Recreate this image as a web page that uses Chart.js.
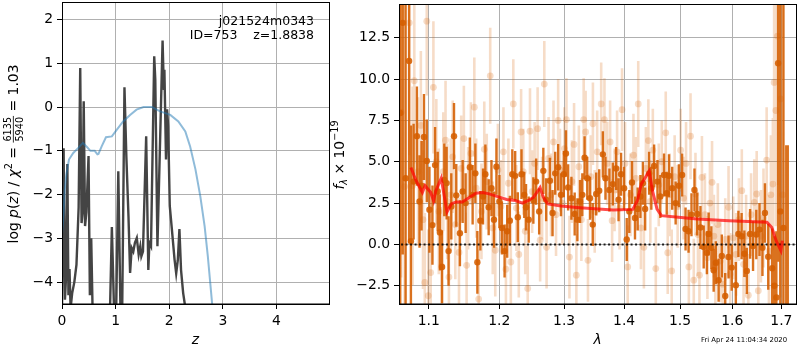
<!DOCTYPE html>
<html><head><meta charset="utf-8">
<script src="https://cdn.jsdelivr.net/npm/chart.js@4.4.1/dist/chart.umd.min.js"></script>
<style>
html,body{margin:0;padding:0;background:#fff;}
#wrap{position:relative;width:800px;height:350px;overflow:hidden;background:#fff;}
#c1{position:absolute;left:0;top:0;}
#c2{position:absolute;left:325px;top:0;}
</style></head><body>
<div id="wrap"><canvas id="c1" width="340" height="350"></canvas><canvas id="c2" width="475" height="350"></canvas></div>
<script>
// ---------------- data: left panel ----------------
const zPz = [0.000,0.030,0.055,0.075,0.100,0.120,0.140,0.160,0.190,0.230,0.270,0.310,0.340,0.365,0.385,0.405,0.430,0.455,0.495,0.520,0.545,0.570,0.600,0.750,0.880,0.930,0.970,1.000,1.050,1.090,1.120,1.165,1.200,1.240,1.270,1.300,1.330,1.360,1.395,1.430,1.460,1.480,1.510,1.570,1.610,1.630,1.660,1.720,1.740,1.780,1.830,1.876,1.900,1.910,1.940,1.960,1.980,2.010,2.050,2.100,2.130,2.160,2.190,2.220,2.260,2.290,2.350];
const logPz = [-4.6,-0.94,-4.4,-3.9,-1.3,-4.3,-3.7,-4.6,-4.25,-4.0,-3.6,-2.3,0.89,-2.65,-2.4,0.13,-2.72,-2.4,-1.12,-4.3,-3.0,-4.6,-5.5,-6.0,-5.5,-2.74,-4.6,-5.5,-1.47,-4.6,-5.0,0.45,-1.12,-2.5,-3.79,-3.22,-3.3,-3.1,-2.99,-3.37,-3.18,-3.41,-3.3,-0.67,-3.72,-3.1,-3.18,1.16,0.63,-3.18,-0.75,1.52,0.39,0.85,-1.2,-0.05,-0.43,-2.26,-2.8,-3.49,-3.8,-3.5,-2.79,-3.72,-4.25,-4.5,-5.5];
const zChi = [0.00,0.03,0.05,0.08,0.13,0.21,0.30,0.35,0.39,0.47,0.53,0.61,0.66,0.68,0.74,0.82,0.93,1.02,1.14,1.27,1.39,1.52,1.68,1.75,1.83,2.02,2.17,2.30,2.39,2.49,2.58,2.66,2.72,2.80,2.85];
const logChi = [-2.9,-2.42,-1.9,-1.55,-1.2,-1.05,-0.94,-0.87,-0.82,-0.92,-1.0,-1.0,-1.08,-1.07,-0.9,-0.69,-0.67,-0.52,-0.33,-0.18,-0.06,0.0,0.0,-0.05,-0.1,-0.18,-0.33,-0.56,-0.9,-1.43,-2.04,-2.72,-3.41,-4.49,-5.3];
const zTicks = [0,1,2,3,4];
const pTicks = [-4,-3,-2,-1,0,1,2];

// ---------------- data: right panel ----------------
const wDark = [1.0619,1.0652,1.0690,1.0736,1.0760,1.0796,1.0840,1.0875,1.0902,1.0935,
1.0973,1.1009,1.1050,1.1086,1.1122,1.1152,1.1182,1.1213,1.1245,1.1272,
1.1310,1.1348,1.1380,1.1431,1.1470,1.1512,1.1572,1.1612,1.1651,1.1680,
1.1723,1.1762,1.1796,1.1844,1.1885,1.1922,1.1958,1.2002,1.2039,1.2079,
1.2118,1.2158,1.2195,1.2238,1.2278,1.2334,1.2376,1.2403,1.2444,1.2516,
1.2559,1.2606,1.2671,1.2715,1.2774,1.2816,1.2858,1.2905,1.2950,1.2995,
1.3030,1.3065,1.3118,1.3171,1.3215,1.3258,1.3296,1.3333,1.3377,1.3422,
1.3468,1.3526,1.3576,1.3637,1.3681,1.3748,1.3806,1.3862,1.3904,1.3947,
1.3999,1.4045,1.4090,1.4137,1.4189,1.4236,1.4284,1.4328,1.4368,1.4439,
1.4478,1.4528,1.4588,1.4639,1.4707,1.4756,1.4797,1.4856,1.4919,1.4980,
1.5039,1.5103,1.5159,1.5214,1.5270,1.5321,1.5383,1.5445,1.5506,1.5540,
1.5592,1.5636,1.5678,1.5732,1.5794,1.5861,1.5926,1.5988,1.6070,1.6121,
1.6185,1.6240,1.6289,1.6355,1.6415,1.6481,1.6546,1.6607,1.6658,1.6726,
1.6807,1.6853,1.6894,1.6931,1.6977,1.7043,1.7102,1.7134];
const fDark = [7.95,13.4,4.0,11.1,0.2,3.8,6.55,2.6,3.55,6.5,
5.05,2.1,1.17,4.8,3.2,0.73,-1.36,3.9,3.71,-0.4,
2.3,6.55,2.97,0.68,3.2,2.5,4.67,3.0,4.3,-1.08,
1.44,2.9,4.25,2.25,3.4,1.5,4.7,2.6,1.0,-0.4,
0.8,1.44,4.25,4.15,1.65,4.25,3.0,2.25,1.5,2.66,
3.8,2.0,4.45,2.7,3.85,1.9,4.3,4.67,3.0,4.25,
5.5,3.45,2.8,1.84,1.5,2.6,3.0,5.24,4.0,2.8,
1.2,3.05,3.25,5.45,4.0,3.3,3.65,4.6,2.7,4.25,
3.4,0.3,2.0,3.75,1.6,2.15,2.9,3.7,2.15,4.3,
3.4,4.75,3.8,2.9,4.2,3.1,4.15,3.4,2.5,3.55,
4.2,0.94,0.8,1.8,3.3,1.84,1.03,-0.15,-0.5,0.64,
-0.2,-1.56,-1.1,-2.16,-0.7,-3.12,-0.76,-1.4,-2.46,0.64,
0.5,-0.56,-1.6,0.64,-0.1,0.6,0.9,-0.2,1.9,-0.74,
-1.44,-2.5,-3.2,10.96,2.0,1.0,-6,-6];
const eDark = [12,14,18,11,7,3.5,3.0,2.8,2.7,2.6,
2.5,2.6,2.4,2.3,2.4,2.3,2.2,2.2,2.2,2.1,
2.0,2.0,1.9,2.0,1.9,1.8,1.8,1.8,1.8,1.9,
1.8,1.7,1.8,1.7,1.7,1.7,1.7,1.6,1.6,1.6,
1.6,1.5,1.5,1.5,1.5,1.5,1.4,1.4,1.4,1.4,
1.4,1.4,1.4,1.3,1.4,1.4,1.3,1.4,1.3,1.4,
1.4,1.4,1.3,1.3,1.3,1.3,1.3,1.3,1.3,1.3,
1.3,1.3,1.3,1.4,1.3,1.3,1.3,1.3,1.3,1.3,
1.3,1.3,1.3,1.3,1.3,1.3,1.3,1.3,1.3,1.3,
1.3,1.3,1.3,1.3,1.3,1.3,1.3,1.3,1.3,1.3,
1.3,1.3,1.3,1.3,1.3,1.3,1.3,1.3,1.3,1.3,
1.3,1.3,1.3,1.3,1.3,1.4,1.3,1.4,1.4,1.4,
1.4,1.4,1.4,1.5,1.5,1.5,1.6,1.7,1.8,2.0,
2.4,3.0,4.0,12,20,20,12,12];

const wLight = [1.0632,1.0677,1.0739,1.0782,1.0805,1.0855,1.0893,1.0922,1.0946,1.0973,
1.0993,1.1026,1.1063,1.1103,1.1137,1.1175,1.1199,1.1230,1.1254,1.1277,
1.1302,1.1330,1.1366,1.1418,1.1449,1.1487,1.1526,1.1548,1.1587,1.1636,
1.1663,1.1699,1.1739,1.1780,1.1816,1.1867,1.1904,1.1941,1.1980,1.2025,
1.2062,1.2099,1.2136,1.2173,1.2210,1.2256,1.2293,1.2328,1.2361,1.2391,
1.2429,1.2464,1.2497,1.2536,1.2582,1.2621,1.2652,1.2686,1.2722,1.2753,
1.2792,1.2831,1.2871,1.2905,1.2934,1.2974,1.3006,1.3038,1.3086,1.3126,
1.3161,1.3198,1.3239,1.3280,1.3318,1.3350,1.3389,1.3435,1.3471,1.3501,
1.3542,1.3609,1.3664,1.3709,1.3760,1.3794,1.3836,1.3879,1.3921,1.3964,
1.4016,1.4062,1.4111,1.4162,1.4206,1.4246,1.4293,1.4346,1.4381,1.4425,
1.4460,1.4505,1.4558,1.4612,1.4666,1.4738,1.4774,1.4810,1.4847,1.4901,
1.4956,1.5011,1.5066,1.5112,1.5164,1.5196,1.5257,1.5289,1.5336,1.5364,
1.5411,1.5468,1.5516,1.5564,1.5605,1.5640,1.5669,1.5717,1.5765,1.5813,
1.5861,1.5926,1.5959,1.6018,1.6076,1.6131,1.6189,1.6224,1.6275,1.6320,
1.6375,1.6441,1.6489,1.6522,1.6576,1.6628,1.6693,1.6740,1.6781,1.6822,
1.6848,1.6883,1.6918,1.6980,1.7028];
const fLight = [8.0,3.5,13.4,3.55,9.9,4.4,7.2,1.5,-2.3,13.5,
-3.1,-1.7,9.5,5.0,2.0,-1.33,4.4,6.3,2.6,-1.97,
3.0,5.3,1.2,-0.48,4.6,6.4,-1.26,2.8,5.5,8.3,
3.4,-3.3,2.0,5.75,3.8,10.2,1.0,-0.35,4.5,2.3,
5.6,-1.5,3.7,-1.06,8.5,2.2,-0.6,6.8,4.4,0.8,
-2.66,6.85,3.2,4.9,7.0,0.26,2.8,9.7,-0.17,5.2,
3.0,6.2,1.8,7.5,4.5,2.5,5.8,7.55,-0.76,3.8,
6.05,-1.86,4.7,1.5,7.55,6.8,-0.96,4.1,7.3,2.0,
5.6,8.5,7.55,4.9,6.2,1.44,3.3,5.6,2.2,8.15,
4.9,-1.36,3.0,5.4,4.0,8.5,1.0,-0.17,4.6,6.28,
2.6,5.7,-1.46,3.6,5.0,6.75,-0.5,3.0,-1.6,4.1,
2.3,5.7,2.8,4.9,-1.36,6.55,-2.16,3.05,0.6,-1.86,
4.06,1.8,-0.8,2.5,3.76,0.5,-1.36,1.2,-1.0,-2.4,
0.3,2.25,-1.8,0.4,-0.6,1.5,3.25,-1.2,0.5,-3.07,
1.8,2.55,3.05,-2.8,0.5,1.6,5.1,-0.4,3.0,3.65,
9.8,8.1,12.6,8.8,3.0];
const eLight = [10,12,8,6,5,4.5,4.5,4.2,4.2,4.5,
4,4,4,3.8,3.8,3.6,3.6,3.6,3.5,3.5,
3.4,3.4,3.3,3.3,3.2,3.2,3.2,3.1,3.1,3.0,
3.0,3.0,2.9,2.9,2.9,2.9,2.8,2.8,2.8,2.8,
2.7,2.7,2.7,2.7,2.7,2.6,2.6,2.6,2.6,2.6,
2.6,2.6,2.5,2.5,2.5,2.5,2.5,2.6,2.5,2.5,
2.5,2.5,2.5,2.5,2.5,2.5,2.5,2.5,2.5,2.5,
2.5,2.5,2.5,2.5,2.5,2.5,2.5,2.5,2.5,2.5,
2.5,2.5,2.5,2.5,2.5,2.5,2.5,2.5,2.5,2.5,
2.5,2.5,2.5,2.5,2.5,2.6,2.5,2.5,2.5,2.5,
2.5,2.5,2.5,2.5,2.5,2.5,2.5,2.5,2.5,2.5,
2.5,2.5,2.5,2.5,2.5,2.6,2.5,2.5,2.5,2.5,
2.5,2.5,2.5,2.5,2.5,2.5,2.5,2.5,2.5,2.5,
2.5,2.5,2.5,2.5,2.5,2.5,2.5,2.5,2.5,2.5,
2.5,2.6,2.6,2.7,2.8,3.0,3.2,3.4,3.6,4,
6,7,9,12,14];

const wModel = [1.0760,1.0830,1.0914,1.0950,1.1025,1.1065,1.1095,1.1170,1.1250,1.1315,1.1380,1.1465,1.1570,1.1660,1.1760,1.1850,1.2000,1.2110,1.2240,1.2350,1.2440,1.2520,1.2620,1.2670,1.2740,1.2950,1.3200,1.3500,1.3810,1.4150,1.4230,1.4300,1.4440,1.4500,1.4580,1.4660,1.4970,1.5320,1.5935,1.6700,1.6800,1.6890,1.6990,1.7020];
const fModel = [4.65,3.85,3.15,3.55,3.15,2.64,3.24,4.0,1.96,2.47,2.57,2.57,2.86,3.1,3.14,3.06,2.86,2.72,2.66,2.5,2.66,2.86,3.44,2.86,2.45,2.32,2.24,2.16,2.08,2.12,2.64,3.65,4.43,3.24,2.14,1.74,1.64,1.54,1.44,1.34,1.03,0.23,-0.37,0.23];
const wTicks = [1.1,1.2,1.3,1.4,1.5,1.6,1.7];
const fTicks = [-2.5,0,2.5,5,7.5,10,12.5];

// ---------------- helpers ----------------
const FAM = "'DejaVu Sans'";
const R = "13.9px " + FAM, I = "italic 13.9px " + FAM, S = "9.7px " + FAM, SI = "italic 9.7px " + FAM;
function pts(xs, ys) { return xs.map((x, i) => ({x: x, y: ys[i]})); }
function errSegs(xs, ys, es) {
  const out = [];
  xs.forEach((x, i) => { out.push({x: x, y: ys[i] - es[i]}, {x: x, y: ys[i] + es[i]}, {x: x, y: null}); });
  return out;
}
function minus(v, d) { const s = Math.abs(v).toFixed(d); return (v < 0 ? '\u2212' : '') + s; }
function drawMath(ctx, pieces) {
  let total = 0;
  for (const p of pieces) {
    ctx.font = p.f;
    if (p.frac) p.w = Math.max(ctx.measureText(p.frac[0]).width, ctx.measureText(p.frac[1]).width) + 2;
    else p.w = ctx.measureText(p.t).width;
    total += p.w;
  }
  let x = -total / 2;
  ctx.textAlign = 'left'; ctx.textBaseline = 'alphabetic';
  for (const p of pieces) {
    ctx.font = p.f;
    if (p.frac) {
      const w1 = ctx.measureText(p.frac[0]).width, w2 = ctx.measureText(p.frac[1]).width;
      ctx.fillText(p.frac[0], x + (p.w - w1) / 2, p.nb);
      ctx.fillText(p.frac[1], x + (p.w - w2) / 2, p.db);
      ctx.fillRect(x, p.bar - 0.4, p.w, 0.8);
    } else ctx.fillText(p.t, x, p.dy || 0);
    x += p.w;
  }
}
const frame = {id: 'frame', afterDraw(chart) {
  const {ctx, chartArea: a} = chart;
  ctx.save(); ctx.strokeStyle = '#000'; ctx.lineWidth = 1;
  ctx.strokeRect(a.left + 0.5, a.top + 0.5, a.right - a.left, a.bottom - a.top - 0.5);
  ctx.restore();
}};
function noPad(s) { s.paddingTop = 0; s.paddingBottom = 0; s.paddingLeft = 0; s.paddingRight = 0; }
function axisCommon(ticksArr, fmt) {
  return {
    afterBuildTicks(s) { s.ticks = ticksArr.map(v => ({value: v})); },
    grid: {color: '#b0b0b0', lineWidth: 1, tickColor: '#000', tickLength: 5, drawTicks: true},
    border: {display: true, color: '#000', width: 1},
    ticks: {color: '#000', font: {family: FAM, size: 13.9}, padding: 4, autoSkip: false, maxRotation: 0, callback: fmt}
  };
}

// ---------------- left chart ----------------
const leftText = {id: 'leftText', afterDraw(chart) {
  const ctx = chart.ctx; ctx.save(); ctx.fillStyle = '#000';
  ctx.font = "12.5px " + FAM; ctx.textAlign = 'right'; ctx.textBaseline = 'alphabetic';
  ctx.fillText('j021524m0343', 314, 24.5);
  ctx.fillText('ID=753    z=1.8838', 314, 38.5);
  ctx.translate(17.5, 154); ctx.rotate(-Math.PI / 2);
  drawMath(ctx, [
    {t: 'log ', f: R}, {t: 'p', f: I}, {t: '(', f: R}, {t: 'z', f: I}, {t: ') / ', f: R},
    {t: '\u03c7', f: I}, {t: '2', f: S, dy: -6}, {t: ' = ', f: R},
    {frac: ['6135', '5940'], f: S, nb: -6.5, db: 5.5, bar: -4.2},
    {t: ' = 1.03', f: R}
  ]);
  ctx.restore();
}};
const xL = axisCommon(zTicks, v => String(v));
Object.assign(xL, {type: 'linear', min: 0, max: 4.98, afterFit(s) { s.height = 46; noPad(s); },
  title: {display: true, text: 'z', color: '#000', font: {family: FAM, size: 13.9, style: 'italic'}, padding: {top: 0, bottom: 1}}});
const yL = axisCommon(pTicks, v => minus(v, 0));
Object.assign(yL, {type: 'linear', min: -4.5, max: 2.4, afterFit(s) { s.width = 62; noPad(s); }});

new Chart(document.getElementById('c1'), {
  type: 'line',
  data: {datasets: [
    {data: pts(zChi, logChi), borderColor: 'rgba(31,119,180,0.5)', borderWidth: 2, pointRadius: 0, order: 0},
    {data: pts(zPz, logPz), borderColor: '#444444', borderWidth: 2.4, pointRadius: 0, order: 1}
  ]},
  options: {responsive: false, animation: false, events: [],
    layout: {padding: {left: 0, right: 11, top: 2, bottom: 0}},
    plugins: {legend: {display: false}, tooltip: {enabled: false}},
    scales: {x: xL, y: yL}},
  plugins: [frame, leftText]
});

// ---------------- right chart ----------------
const OR = 'rgba(213,94,0,0.88)', ORL = 'rgba(213,94,0,0.22)';
const rightText = {id: 'rightText', afterDraw(chart) {
  const ctx = chart.ctx; ctx.save(); ctx.fillStyle = '#000';
  ctx.font = "6.9px " + FAM; ctx.textAlign = 'center'; ctx.textBaseline = 'alphabetic';
  ctx.fillText('Fri Apr 24 11:04:34 2020', 744 - 325, 341.5);
  ctx.translate(19, 155); ctx.rotate(-Math.PI / 2);
  drawMath(ctx, [
    {t: 'f', f: I}, {t: '\u03bb', f: SI, dy: 3}, {t: ' \u00d7 10', f: R}, {t: '\u221219', f: S, dy: -6}
  ]);
  ctx.restore();
}};
const xR = axisCommon(wTicks, v => Number(v).toFixed(1));
Object.assign(xR, {type: 'logarithmic', min: 1.0603, max: 1.7309, afterFit(s) { s.height = 46; noPad(s); },
  title: {display: true, text: '\u03bb', color: '#000', font: {family: FAM, size: 13.9, style: 'italic'}, padding: {top: 0, bottom: 1}}});
const yR = axisCommon(fTicks, v => minus(v, 1));
Object.assign(yR, {type: 'linear', min: -3.6, max: 14.54, afterFit(s) { s.width = 74; noPad(s); }});

new Chart(document.getElementById('c2'), {
  type: 'line',
  data: {datasets: [
    {data: pts(wModel, fModel), borderColor: 'rgba(255,0,0,0.7)', borderWidth: 3, pointRadius: 0, order: 0},
    {data: [{x: 1.0, y: 0}, {x: 1.8, y: 0}], borderColor: 'rgba(0,0,0,0.85)', borderWidth: 2, borderDash: [2, 2.5], pointRadius: 0, order: 1},
    {data: pts(wDark, fDark), showLine: false, pointRadius: 3.2, pointBackgroundColor: OR, pointBorderWidth: 0, order: 2},
    {data: errSegs(wDark, fDark, eDark), borderColor: OR, borderWidth: 2.4, pointRadius: 0, spanGaps: false, order: 3},
    {data: pts(wLight, fLight), showLine: false, pointRadius: 3.4, pointBackgroundColor: ORL, pointBorderWidth: 0, order: 4},
    {data: errSegs(wLight, fLight, eLight), borderColor: ORL, borderWidth: 2.6, pointRadius: 0, spanGaps: false, order: 5}
  ]},
  options: {responsive: false, animation: false, events: [],
    layout: {padding: {left: 0, right: 1, top: 2, bottom: 0}},
    plugins: {legend: {display: false}, tooltip: {enabled: false}},
    scales: {x: xR, y: yR}},
  plugins: [frame, rightText]
});
</script>
</body></html>
